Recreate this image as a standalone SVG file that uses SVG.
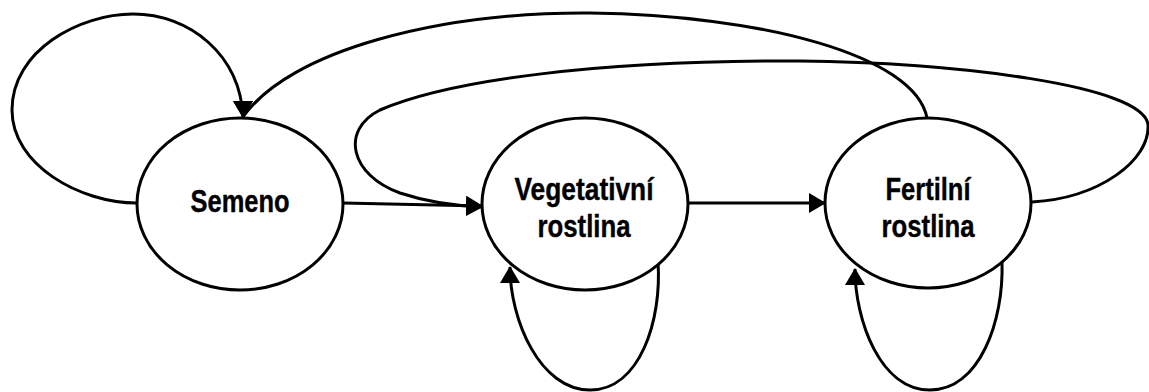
<svg xmlns="http://www.w3.org/2000/svg" width="1149" height="392" viewBox="0 0 1149 392">
<style>
.node{fill:#fff;stroke:#000;stroke-width:3}
.edge{fill:none;stroke:#000;stroke-width:3}
.lbl{font-family:"Liberation Sans Narrow","Liberation Sans",Arial,sans-serif;font-weight:bold;font-size:32px;fill:#000;text-anchor:middle;stroke:#000;stroke-width:0.4}
</style>
<defs>
<marker id="arr" markerUnits="userSpaceOnUse" markerWidth="18" markerHeight="20" refX="16" refY="10" orient="auto">
<path d="M0,0 L17,10 L0,20 z" fill="#000"/>
</marker>
<marker id="arrDown" markerUnits="userSpaceOnUse" markerWidth="18" markerHeight="20" refX="16" refY="10" orient="90">
<path d="M0,0 L17,10 L0,20 z" fill="#000"/>
</marker>
</defs>
<g id="connectors">
<path class="edge" d="M137,203 C80,203 12,165 12,110 C12,50 80,14 133,14 C190,14 240,55 243,117" marker-end="url(#arrDown)"/>
<path class="edge" d="M927,118 C915,55 760,15 590,13 C440,12 290,50 243,117" marker-end="url(#arrDown)"/>
<path class="edge" d="M1032,202 C1100,198 1150,160 1148,125 C1145,85 950,62 800,61 C600,60 450,80 380,110 C340,130 350,175 400,193 C430,203 460,206 482,207" marker-end="url(#arr)"/>
<path class="edge" d="M343,203 L482,206" marker-end="url(#arr)"/>
<path class="edge" d="M688,203 L825,203" marker-end="url(#arr)"/>
<path class="edge" d="M658,262 C662,320 640,390 590,390 C540,390 510,320 510,267" marker-end="url(#arr)"/>
<path class="edge" d="M1002,262 C1004,320 980,390 930,390 C880,390 855,320 855,269" marker-end="url(#arr)"/>
</g>
<g id="semeno">
<ellipse class="node" cx="240" cy="204" rx="103" ry="86"/>
<text class="lbl" x="240" y="212" textLength="99" lengthAdjust="spacingAndGlyphs">Semeno</text>
</g>
<g id="vegetativni">
<ellipse class="node" cx="585" cy="204" rx="103" ry="86"/>
<text class="lbl" x="584" y="200" textLength="139" lengthAdjust="spacingAndGlyphs">Vegetativní</text>
<text class="lbl" x="584" y="237" textLength="93" lengthAdjust="spacingAndGlyphs">rostlina</text>
</g>
<g id="fertilni">
<ellipse class="node" cx="928" cy="203" rx="103" ry="85"/>
<text class="lbl" x="928" y="200" textLength="85" lengthAdjust="spacingAndGlyphs">Fertilní</text>
<text class="lbl" x="928" y="237" textLength="93" lengthAdjust="spacingAndGlyphs">rostlina</text>
</g>
</svg>
